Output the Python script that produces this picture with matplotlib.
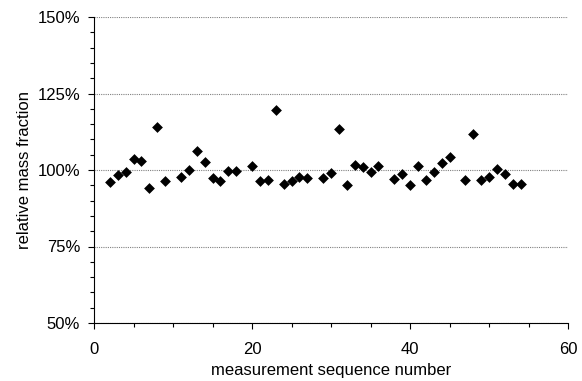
import matplotlib
matplotlib.use("Agg")
import matplotlib.pyplot as plt
from matplotlib.ticker import MultipleLocator, FuncFormatter

seq = [2, 3, 4, 5, 6, 7, 8, 9, 11, 12, 13, 14, 15, 16, 17, 18, 20, 21, 22, 23, 24, 25, 26, 27,
       29, 30, 31, 32, 33, 34, 35, 36, 38, 39, 40, 41, 42, 43, 44, 45, 47, 48, 49, 50, 51, 52, 53, 54]
frac = [96.2, 98.3, 99.3, 103.5, 103.0, 94.2, 114.2, 96.5, 97.8, 100.0, 106.1, 102.5, 97.5, 96.5,
        99.8, 99.8, 101.4, 96.5, 96.7, 119.6, 95.3, 96.4, 97.8, 97.5,
        97.5, 99.1, 113.5, 95.0, 101.5, 101.1, 99.4, 101.2, 97.2, 98.7, 95.0, 101.4, 96.6, 99.3,
        102.3, 104.4, 96.6, 111.8, 96.7, 97.8, 100.2, 98.7, 95.4, 95.4]

plt.rcParams['font.family'] = ['Liberation Sans', 'DejaVu Sans']

fig = plt.figure(figsize=(5.82, 3.81), dpi=100)
ax = fig.add_axes([94/582, 1-323/381, (568-94)/582, (323-17)/381])

ax.scatter(seq, frac, marker='D', s=5.5**2, color='black', zorder=3, linewidths=0)

ax.set_xlim(0, 60)
ax.set_ylim(50, 150)
ax.xaxis.set_major_locator(MultipleLocator(20))
ax.xaxis.set_minor_locator(MultipleLocator(5))
ax.yaxis.set_major_locator(MultipleLocator(25))
ax.yaxis.set_minor_locator(MultipleLocator(5))
ax.yaxis.set_major_formatter(FuncFormatter(lambda v, p: f"{v:.0f}%"))

ax.grid(axis='y', which='major', color='#808080', linestyle=(0, (1, 1)), linewidth=0.8)
ax.set_axisbelow(True)

for s in ['top', 'right']:
    ax.spines[s].set_visible(False)
for s in ['left', 'bottom']:
    ax.spines[s].set_color('black')
    ax.spines[s].set_linewidth(0.8)

ax.tick_params(which='major', direction='out', length=4, width=0.8, labelsize=12)
ax.tick_params(which='minor', direction='out', length=3, width=0.8)
ax.tick_params(axis='x', which='major', pad=10)
ax.tick_params(axis='y', which='major', pad=6)

ax.set_xlabel('measurement sequence number', fontsize=12, labelpad=4)
ax.set_ylabel('relative mass fraction', fontsize=12, labelpad=4)

fig.savefig('out.png', dpi=100)
